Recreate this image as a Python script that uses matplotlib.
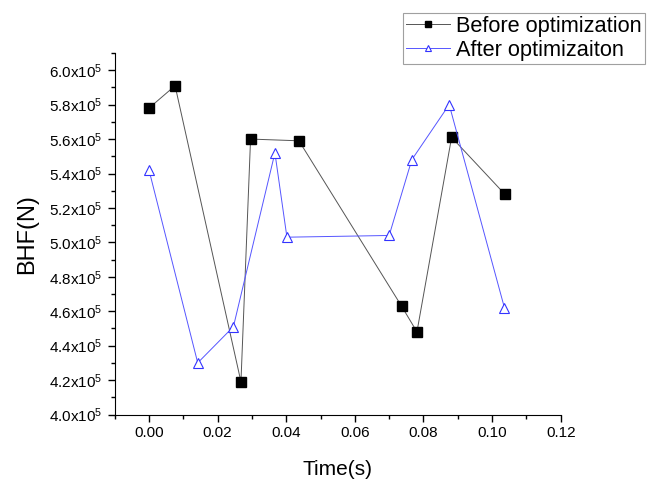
import matplotlib
matplotlib.use("Agg")
import matplotlib.pyplot as plt
from matplotlib.ticker import MultipleLocator, FuncFormatter

plt.rcParams['font.family'] = ['Liberation Sans', 'DejaVu Sans']
plt.rcParams['mathtext.fontset'] = 'custom'
plt.rcParams['mathtext.rm'] = 'Liberation Sans'
plt.rcParams['mathtext.it'] = 'Liberation Sans'

before_t = [0.0000, 0.0076, 0.0268, 0.0296, 0.0437, 0.0736, 0.0781, 0.0882, 0.1037]
before_f = [5.78e5, 5.91e5, 4.19e5, 5.60e5, 5.59e5, 4.63e5, 4.48e5, 5.61e5, 5.28e5]
after_t = [0.0000, 0.0142, 0.0246, 0.0367, 0.0402, 0.0700, 0.0766, 0.0875, 0.1036]
after_f = [5.42e5, 4.30e5, 4.51e5, 5.52e5, 5.03e5, 5.04e5, 5.48e5, 5.80e5, 4.62e5]

fig = plt.figure(figsize=(6.51, 4.8), dpi=100)
ax = fig.add_axes([114.7/651, 1 - 414.5/480, (560.7-114.7)/651, (414.5-53)/480])

ax.plot(before_t, before_f, color='#555555', lw=0.7, marker='s', ms=6.5,
        mfc='black', mec='black', label='Before optimization')
ax.plot(after_t, after_f, color='#5555ff', lw=0.7, marker='^', ms=7,
        mfc='white', mec='#3333ff', mew=0.8, label='After optimizaiton')

ax.set_xlim(-0.01, 0.12)
ax.set_ylim(4.0e5, 6.1e5)
ax.xaxis.set_major_locator(MultipleLocator(0.02))
ax.xaxis.set_minor_locator(MultipleLocator(0.01))
ax.yaxis.set_major_locator(MultipleLocator(0.2e5))
ax.yaxis.set_minor_locator(MultipleLocator(0.1e5))
ax.xaxis.set_major_formatter(FuncFormatter(lambda v, p: f"{v:.2f}"))
ax.yaxis.set_major_formatter(FuncFormatter(lambda v, p: f"{v/1e5:.1f}x10$^5$"))

for s in ['top', 'right']:
    ax.spines[s].set_visible(False)
ax.tick_params(which='major', direction='out', length=5, width=1, labelsize=11)
ax.tick_params(which='minor', direction='out', length=3, width=1)

ax.set_xlabel('Time(s)', fontsize=15, labelpad=14)
ax.set_ylabel('BHF(N)', fontsize=17, labelpad=8)

leg = fig.legend(loc='upper left', bbox_to_anchor=(403/651, 1 - 12.7/480),
                 fontsize=15.7, frameon=True, fancybox=False, edgecolor='#888888',
                 borderpad=0.15, labelspacing=0.12, handlelength=2.0,
                 handletextpad=0.3, borderaxespad=0, markerscale=0.65)
leg.get_frame().set_linewidth(0.8)

fig.savefig('out.png', dpi=100)
